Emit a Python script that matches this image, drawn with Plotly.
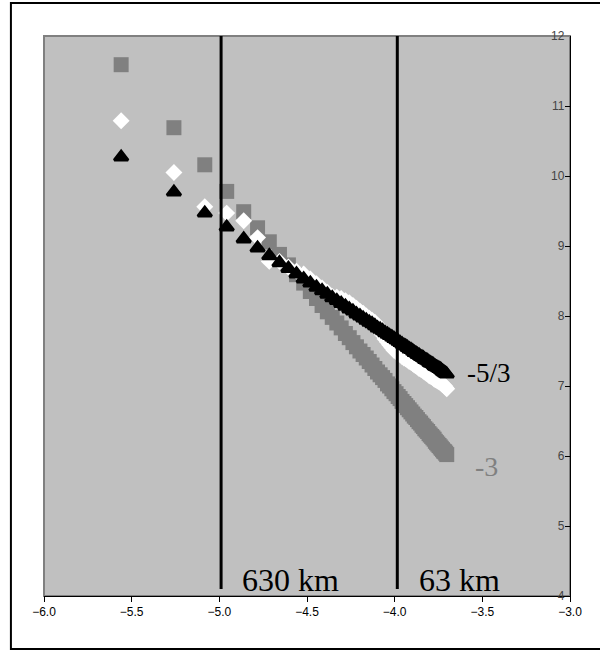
import plotly.graph_objects as go

# log10 wavenumber (x) for each spectral point
x_vals = [-5.560, -5.259, -5.083, -4.958, -4.861, -4.782, -4.715, -4.657, -4.606, -4.560,
          -4.519, -4.481, -4.446, -4.414, -4.384, -4.356, -4.330, -4.305, -4.281, -4.259,
          -4.238, -4.218, -4.198, -4.180, -4.162, -4.145, -4.129, -4.113, -4.098, -4.083,
          -4.069, -4.055, -4.041, -4.029, -4.016, -4.004, -3.992, -3.980, -3.969, -3.958,
          -3.947, -3.937, -3.927, -3.917, -3.907, -3.897, -3.888, -3.879, -3.870, -3.861,
          -3.852, -3.844, -3.836, -3.828, -3.820, -3.812, -3.804, -3.797, -3.789, -3.782,
          -3.775, -3.768, -3.761, -3.754, -3.747, -3.740, -3.734, -3.727, -3.721, -3.715,
          -3.709, -3.703]

# gray squares (slope -3)
y_squares = [11.59, 10.69, 10.16, 9.78, 9.49, 9.26, 9.06, 8.88, 8.73, 8.59,
             8.47, 8.35, 8.25, 8.15, 8.06, 7.98, 7.90, 7.83, 7.75, 7.69,
             7.62, 7.56, 7.50, 7.45, 7.40, 7.35, 7.30, 7.25, 7.20, 7.16,
             7.12, 7.08, 7.03, 7.00, 6.96, 6.92, 6.89, 6.85, 6.82, 6.78,
             6.75, 6.72, 6.69, 6.66, 6.63, 6.60, 6.57, 6.55, 6.52, 6.49,
             6.47, 6.44, 6.42, 6.39, 6.37, 6.35, 6.32, 6.30, 6.28, 6.26,
             6.24, 6.21, 6.19, 6.17, 6.15, 6.13, 6.11, 6.09, 6.07, 6.06,
             6.04, 6.02]

# white diamonds (observed spectrum)
y_diamonds = [10.79, 10.05, 9.56, 9.47, 9.36, 9.12, 8.78, 8.78, 8.70, 8.64,
              8.60, 8.53, 8.46, 8.40, 8.34, 8.28, 8.27, 8.25, 8.22, 8.19,
              8.15, 8.11, 8.07, 8.04, 8.00, 7.97, 7.94, 7.91, 7.87, 7.79,
              7.73, 7.67, 7.63, 7.59, 7.55, 7.51, 7.49, 7.47, 7.45, 7.42,
              7.40, 7.39, 7.37, 7.35, 7.34, 7.32, 7.30, 7.29, 7.27, 7.25,
              7.24, 7.23, 7.21, 7.20, 7.18, 7.17, 7.15, 7.14, 7.13, 7.12,
              7.10, 7.09, 7.08, 7.07, 7.06, 7.05, 7.04, 7.02, 7.01, 7.00,
              6.98, 6.96]

# black triangles (slope -5/3)
y_triangles = [10.27, 9.77, 9.47, 9.27, 9.10, 8.97, 8.86, 8.76, 8.68, 8.60,
               8.53, 8.47, 8.41, 8.36, 8.31, 8.26, 8.22, 8.18, 8.14, 8.10,
               8.07, 8.03, 8.00, 7.97, 7.94, 7.91, 7.89, 7.86, 7.83, 7.81,
               7.79, 7.76, 7.74, 7.72, 7.70, 7.68, 7.66, 7.64, 7.62, 7.60,
               7.58, 7.57, 7.55, 7.53, 7.52, 7.50, 7.48, 7.47, 7.45, 7.44,
               7.42, 7.41, 7.40, 7.38, 7.37, 7.36, 7.34, 7.33, 7.32, 7.31,
               7.29, 7.28, 7.27, 7.26, 7.25, 7.24, 7.23, 7.21, 7.20, 7.19,
               7.18, 7.17]

scale_lines_x = [-4.99, -3.985]
scale_labels = ["630 km", "63 km"]
x_ticks = [-6.0, -5.5, -5.0, -4.5, -4.0, -3.5, -3.0]
y_ticks = [4, 5, 6, 7, 8, 9, 10, 11, 12]

fig = go.Figure()
fig.add_trace(go.Scatter(x=x_vals, y=y_squares, mode="markers",
                         marker=dict(symbol="square", size=15, color="#808080",
                                     line=dict(width=0))))
fig.add_trace(go.Scatter(x=x_vals, y=y_diamonds, mode="markers",
                         marker=dict(symbol="diamond", size=13, color="#FFFFFF",
                                     line=dict(width=0))))
fig.add_trace(go.Scatter(x=x_vals, y=y_triangles, mode="markers",
                         marker=dict(symbol="triangle-up", size=12, color="#000000",
                                     line=dict(width=3, color="#000000"))))

shapes = []
# plot area frame
shapes.append(dict(type="rect", xref="paper", yref="paper", x0=0, x1=1, y0=0, y1=1,
                   line=dict(color="#808080", width=2), layer="below"))
# outer chart border
shapes.append(dict(type="rect", xref="paper", yref="paper",
                   x0=-0.0629, x1=1.06, y0=-0.0946, y1=1.0589,
                   line=dict(color="#000000", width=2)))
for xv in scale_lines_x:
    shapes.append(dict(type="line", xref="x", yref="y", x0=xv, x1=xv, y0=4.1, y1=12,
                       line=dict(color="#000000", width=3)))

annotations = [
    dict(x=-4.885, y=4.23, xref="x", yref="y", text=scale_labels[0], showarrow=False,
         xanchor="left", yanchor="middle",
         font=dict(family="Liberation Serif", size=32, color="#000000")),
    dict(x=-3.87, y=4.23, xref="x", yref="y", text=scale_labels[1], showarrow=False,
         xanchor="left", yanchor="middle",
         font=dict(family="Liberation Serif", size=32, color="#000000")),
    dict(x=-3.60, y=7.18, xref="x", yref="y", text="-5/3", showarrow=False,
         xanchor="left", yanchor="middle",
         font=dict(family="Liberation Serif", size=27, color="#000000")),
    dict(x=-3.555, y=5.85, xref="x", yref="y", text="-3", showarrow=False,
         xanchor="left", yanchor="middle",
         font=dict(family="Liberation Serif", size=28, color="#808080")),
]

fig.update_layout(
    width=600, height=650,
    margin=dict(l=44, r=30, t=36, b=54),
    paper_bgcolor="#FFFFFF", plot_bgcolor="#C0C0C0",
    showlegend=False,
    shapes=shapes, annotations=annotations,
    font=dict(family="Liberation Sans", size=12, color="#000000"),
)
fig.update_xaxes(range=[-6, -3], tickvals=x_ticks, tickformat=".1f",
                 showgrid=False, zeroline=False,
                 showline=True, linecolor="#000000", linewidth=1,
                 ticks="outside", ticklen=5, tickcolor="#000000",
                 tickfont=dict(size=12))
fig.update_yaxes(range=[4, 12], tickvals=y_ticks, side="right",
                 showgrid=False, zeroline=False,
                 showline=True, linecolor="#000000", linewidth=1,
                 ticks="inside", ticklen=5, tickcolor="#000000",
                 ticklabelposition="inside", ticklabeloverflow="allow",
                 tickfont=dict(size=12))

fig.write_html("out.html")
